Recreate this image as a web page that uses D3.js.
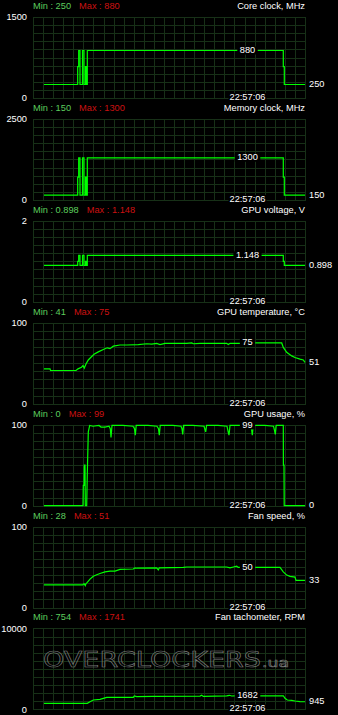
<!DOCTYPE html>
<html><head><meta charset="utf-8">
<script src="https://cdn.jsdelivr.net/npm/d3@7"></script>
<style>
html,body{margin:0;padding:0;background:#000;}
svg{display:block;}
text{font-family:"Liberation Sans",Arial,sans-serif;font-size:9.25px;}
</style></head>
<body>
<svg id="c" width="338" height="715"></svg>
<script>
// ---- data ----
const titles = ["Core clock, MHz","Memory clock, MHz","GPU voltage, V","GPU temperature, °C","GPU usage, %","Fan speed, %","Fan tachometer, RPM"];
const yMaxVals = [1500, 2500, 2, 100, 100, 100, 10000];
const yMaxLabels = ["1500","2500","2","100","100","100","10000"];
const minLabels = ["250","150","0.898","41","0","28","754"];
const maxLabels = ["880","1300","1.148","75","99","51","1741"];
const currentVals = [250, 150, 0.898, 51, 0, 33, 945];
const currentLabels = ["250","150","0.898","51","0","33","945"];
const cursorVals = [880, 1300, 1.148, 75, 99, 50, 1682];
const cursorLabels = ["880","1300","1.148","75","99","50","1682"];
const timeLabel = "22:57:06";
const stepped = [true, true, true, false, false, false, false];

// samples: [time (s), value]
const coreClock = [[11,250],[44.7,580],[45.7,880],[47,250],[49.5,880],[51,250],[52.5,580],[53.5,250],[54.3,880],[250.3,580],[251.3,250],[272,250]];
const memClock = [[11,150],[44.7,700],[45.7,1300],[47,150],[49.5,1300],[51,150],[52.5,700],[53.5,150],[54.3,1300],[250.3,700],[251.3,150],[272,150]];
const voltage = [[11,0.898],[44.7,1.0],[45.7,1.148],[47,0.898],[49.5,1.148],[51,0.898],[52.5,1.0],[53.5,0.898],[54.3,1.148],[250.3,1.0],[251.3,0.898],[272,0.898]];
const temperature = [[11,43],[17,43],[17.5,41],[43,41],[45,43],[48.5,45],[50,47],[51.3,44],[53,49],[55.3,54],[57.7,57],[61,61],[65.3,64],[70.3,67],[74.3,69],[77,68],[80.3,71],[87,72.5],[93.7,72.5],[105.3,73],[113.7,74],[118.7,73.5],[123.7,74.5],[127,73],[132,74.5],[140.3,74.5],[153.7,74.5],[158.7,75],[160.3,74],[167,74.5],[180.3,74.5],[193.7,74.5],[195.3,73],[197,74.5],[207,74.5],[222,75],[237,75],[248.7,75],[250.3,69.5],[253.7,63.5],[258.7,59],[262,57],[267,55],[270.3,54],[272,51]];
const gpuUsage = [[11,0],[50,0],[50.3,25],[51,25],[51.3,50],[52,50],[52.3,0],[53.7,0],[54.3,40],[55.3,91],[56.7,99],[60,98],[66,99],[68,97],[72,97],[76,98],[77.3,95],[78,84],[79,99],[90,99],[100,98],[101.5,95],[102.3,87],[103.2,99],[115,99],[124,98],[125.5,95],[126.3,87],[127.2,99],[140,99],[148,98],[149,95],[149.7,88],[150.6,99],[160,99],[171,98],[172,94],[172.7,91],[173.6,99],[185,99],[194,98],[195,92],[196,87],[197,99],[210,99],[217,98],[218.5,95],[219.3,87],[220.2,99],[232,99],[240.5,98],[241.5,93],[242.3,88],[243.2,99],[250.3,99],[250.4,50],[251,50],[251.2,0],[272,0]];
const fanSpeed = [[11,28],[49.7,28],[51,29.5],[52.3,27],[53,29.5],[54.3,31],[57,35],[60.3,38.5],[63.7,40.5],[67,42],[72,44],[77,45],[82,45],[87,47],[100.3,47.5],[102,49],[103.7,48.5],[123.7,49],[125.3,46.5],[126.3,49],[150.3,49.5],[153.7,50],[173.7,50],[193.7,50],[197,49],[200.3,50],[203.7,51],[205.3,49.5],[208.7,49.5],[222,49.5],[247,49.5],[250.3,44],[253.7,40],[257,38.5],[262,37.5],[263,33.5],[272,33.5]];
const fanTach = [[11,754],[54.3,754],[57,954],[60.3,1160],[67,1243],[70.3,1366],[73.7,1490],[100.3,1490],[101.3,1654],[103.7,1572],[120,1620],[167,1640],[168.7,1741],[170.3,1600],[193.7,1660],[196.3,1741],[198.7,1654],[202,1682],[227,1682],[250.3,1682],[252,1366],[254.3,1160],[258.7,1119],[262,1037],[267,954],[272,945]];
const series = [coreClock, memClock, voltage, temperature, gpuUsage, fanSpeed, fanTach];
const timeDomain = [0, 272];
const cursorTime = 214.5;

// ---- drawing ----
const svg = d3.select("#c");
const left = 33, right = 305, plotH = 81, firstTop = 17, pitch = 101.9;
const gridCol = "#173017", lineCol = "#00ff00", minCol = "#5ccc5c", maxCol = "#cc1111";
const x = d3.scaleLinear().domain(timeDomain).range([left, right]);

series.forEach((data, i) => {
  const top = firstTop + i * pitch, bottom = top + plotH;
  const y = d3.scaleLinear().domain([0, yMaxVals[i]]).range([bottom, top]);
  const g = svg.append("g");

  // grid
  const vt = d3.range(28).map(k => timeDomain[0] + k * (timeDomain[1] - timeDomain[0]) / 27);
  const ht = d3.range(11).map(k => k * yMaxVals[i] / 10);
  g.append("g").selectAll("line.v").data(vt).join("line")
    .attr("x1", d => Math.round(x(d)) + 0.5).attr("x2", d => Math.round(x(d)) + 0.5)
    .attr("y1", Math.round(top)).attr("y2", Math.round(bottom) + 1)
    .attr("stroke", gridCol).attr("stroke-width", 1);
  g.append("g").selectAll("line.h").data(ht).join("line")
    .attr("x1", left).attr("x2", right + 1)
    .attr("y1", d => Math.round(y(d)) + 0.5).attr("y2", d => Math.round(y(d)) + 0.5)
    .attr("stroke", gridCol).attr("stroke-width", 1);

  // watermark in last panel
  if (i === 6) {
    g.append("text").attr("x", 43).attr("y", top + 38.5)
      .attr("fill", "none").attr("stroke", "#7a7a7a").attr("stroke-width", 0.6)
      .style("font-family", "'DejaVu Sans', sans-serif").style("font-size", "21px")
      .attr("textLength", 218).attr("lengthAdjust", "spacingAndGlyphs")
      .text("OVERCLOCKERS");
    g.append("text").attr("x", 262).attr("y", top + 38.5)
      .attr("fill", "none").attr("stroke", "#7a7a7a").attr("stroke-width", 0.6)
      .style("font-family", "'DejaVu Sans', sans-serif").style("font-size", "13px")
      .attr("textLength", 27).attr("lengthAdjust", "spacingAndGlyphs")
      .text(".ua");
  }

  // y axis labels
  const ax = d3.axisLeft(y).tickValues([0, yMaxVals[i]]).tickSize(0).tickPadding(6)
    .tickFormat((d, k) => k === 0 ? "0" : yMaxLabels[i]);
  const axG = g.append("g").attr("transform", `translate(${left},0)`).call(ax);
  axG.select(".domain").remove();
  axG.selectAll("text").attr("fill", "#fff").style("font-size", "9.25px")
    .style("font-family", "'Liberation Sans',Arial,sans-serif");

  // line
  const line = d3.line().x(d => x(d[0])).y(d => y(d[1]))
    .curve(stepped[i] ? d3.curveStepAfter : d3.curveLinear);
  g.append("path").datum(data).attr("d", line).attr("fill", "none")
    .attr("stroke", lineCol).attr("stroke-width", 1.2);

  // header
  const minT = g.append("text").attr("x", left).attr("y", top - 8).attr("fill", minCol)
    .text("Min : " + minLabels[i]);
  const mw = minT.node().getComputedTextLength();
  g.append("text").attr("x", left + mw + 8).attr("y", top - 8).attr("fill", maxCol)
    .text("Max : " + maxLabels[i]);
  g.append("text").attr("x", right).attr("y", top - 8).attr("fill", "#fff")
    .attr("text-anchor", "end").text(titles[i]);

  // current value on right
  g.append("text").attr("x", right + 4).attr("y", y(currentVals[i]) + 2.5).attr("fill", "#fff")
    .text(currentLabels[i]);

  // cursor value label
  const cx = x(cursorTime), cy = y(cursorVals[i]);
  const ct = g.append("text").attr("x", cx).attr("y", cy + 2.5).attr("fill", "#fff")
    .attr("text-anchor", "middle").text(cursorLabels[i]);
  const cw = ct.node().getComputedTextLength();
  g.insert("rect", () => ct.node()).attr("x", cx - cw / 2 - 2.5).attr("y", cy - 4)
    .attr("width", cw + 5).attr("height", 8).attr("fill", "#000");

  // time label
  const tt = g.append("text").attr("x", cx).attr("y", bottom + 2).attr("fill", "#fff")
    .attr("text-anchor", "middle").text(timeLabel);
  const tw = tt.node().getComputedTextLength();
  g.insert("rect", () => tt.node()).attr("x", cx - tw / 2 - 1).attr("y", bottom - 5)
    .attr("width", tw + 2).attr("height", 8).attr("fill", "#000");
});
</script>
</body></html>
